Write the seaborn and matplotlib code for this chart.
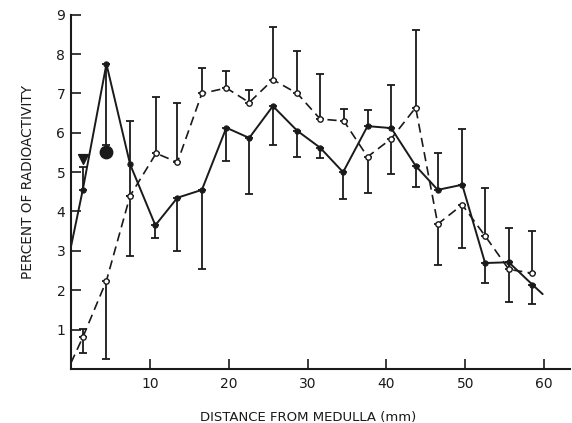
import matplotlib
matplotlib.use("Agg")
import matplotlib.pyplot as plt
import seaborn as sns
import numpy as np
import pandas as pd

# Solid series (filled circles)
x_solid = [1.5, 4.5, 7.5, 10.7, 13.5, 16.6, 19.7, 22.6, 25.6, 28.7, 31.6, 34.5,
           37.6, 40.6, 43.7, 46.5, 49.6, 52.5, 55.5, 58.5]
y_solid = [4.55, 7.75, 5.2, 3.65, 4.35, 4.55, 6.13, 5.87, 6.68, 6.05, 5.62, 5.0,
           6.17, 6.12, 5.16, 4.55, 4.68, 2.69, 2.71, 2.14]
err_lo_solid = [0, 2.05, 0, 0.33, 1.35, 2.0, 0.85, 1.42, 0.99, 0.67, 0.26, 0.69,
                0, 0, 0.53, 0, 0, 0.52, 1.02, 0.48]
err_hi_solid = [0.58, 0, 0, 0, 0, 0, 0, 0, 0, 0, 0, 0,
                0.41, 1.1, 0, 0.94, 1.41, 0, 0, 0]
solid_start = (0.0, 3.1)
solid_end = (59.8, 1.9)

# Open series (open circles, dashed)
x_open = [1.5, 4.5, 7.5, 10.8, 13.5, 16.6, 19.7, 22.6, 25.6, 28.7, 31.6, 34.6,
          37.6, 40.6, 43.7, 46.5, 49.6, 52.5, 55.5, 58.5]
y_open = [0.8, 2.24, 4.4, 5.48, 5.25, 7.0, 7.14, 6.77, 7.35, 7.0, 6.35, 6.3,
          5.39, 5.85, 6.64, 3.68, 4.17, 3.38, 2.53, 2.43]
err_lo_open = [0.39, 1.99, 1.52, 0, 0, 0, 0, 0, 0, 0, 0, 0,
               0.92, 0.89, 0, 1.05, 1.1, 0, 0, 0]
err_hi_open = [0.22, 0, 1.9, 1.42, 1.51, 0.66, 0.44, 0.33, 1.35, 1.08, 1.15, 0.31,
               0, 0, 1.98, 0, 0, 1.22, 1.05, 1.07]
open_start = (0.0, 0.15)

# Extra single markers
tri_point = (1.5, 5.33)
dot_point = (4.5, 5.52)

x_ticks = [10, 20, 30, 40, 50, 60]
y_ticks = [1, 2, 3, 4, 5, 6, 7, 8, 9]

sns.set_style("ticks")
plt.rcParams['font.family'] = ['DejaVu Sans']

fig = plt.figure(figsize=(5.72, 4.23), dpi=100)
ax = fig.add_axes([0.124, 0.128, 0.873, 0.837])

col = "#1a1a1a"

# lines
xs_line = [solid_start[0]] + x_solid + [solid_end[0]]
ys_line = [solid_start[1]] + y_solid + [solid_end[1]]
sns.lineplot(x=xs_line, y=ys_line, ax=ax, color=col, lw=1.4, sort=False,
             estimator=None)
xo_line = [open_start[0]] + x_open
yo_line = [open_start[1]] + y_open
sns.lineplot(x=xo_line, y=yo_line, ax=ax, color=col, lw=1.2, sort=False,
             estimator=None)
ax.lines[-1].set_dashes([5.5, 3.2])

# error bars
def draw_err(x, y, lo, hi):
    for xi, yi, l, h in zip(x, y, lo, hi):
        if l > 0:
            ax.errorbar([xi], [yi], yerr=[[l], [0]], fmt='none', ecolor=col,
                        elinewidth=1.3, capsize=3.0, capthick=1.3)
        if h > 0:
            ax.errorbar([xi], [yi], yerr=[[0], [h]], fmt='none', ecolor=col,
                        elinewidth=1.3, capsize=3.0, capthick=1.3)

draw_err(x_solid, y_solid, err_lo_solid, err_hi_solid)
draw_err(x_open, y_open, err_lo_open, err_hi_open)

# markers
sns.scatterplot(x=x_solid, y=y_solid, ax=ax, color=col, s=14, edgecolor=col,
                linewidth=0.8, zorder=5)
ax.scatter(x_open, y_open, s=15, facecolor="white", edgecolor=col,
           linewidth=1.0, zorder=5)
ax.scatter([tri_point[0]], [tri_point[1]], marker="v", s=50, color=col, zorder=5)
ax.scatter([dot_point[0]], [dot_point[1]], marker="o", s=80, color=col, zorder=5)

ax.set_xlim(0, 63.3)
ax.set_ylim(0, 9)
ax.set_xticks(x_ticks)
ax.set_yticks(y_ticks)
ax.tick_params(direction="in", length=7, width=1.2, labelsize=10, colors=col,
               pad=6)
ax.tick_params(axis="y", pad=4)
for s in ["top", "right"]:
    ax.spines[s].set_visible(False)
for s in ["left", "bottom"]:
    ax.spines[s].set_linewidth(1.5)
    ax.spines[s].set_color(col)

ax.set_xlabel("DISTANCE FROM MEDULLA (mm)", fontsize=9.5, color=col)
ax.set_ylabel("PERCENT OF RADIOACTIVITY", fontsize=9.8, color=col)
ax.xaxis.set_label_coords(0.475, -0.118)
ax.yaxis.set_label_coords(-0.072, 0.528)

fig.savefig("out.png", dpi=100)
